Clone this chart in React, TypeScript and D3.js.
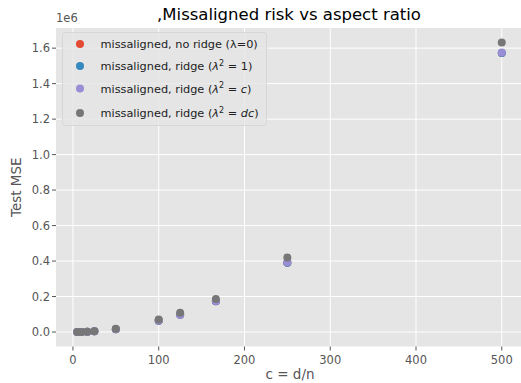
import React from "react";
import * as d3 from "d3";

// aspect ratio c = d/n
const cValues = [5, 10, 16.67, 25, 50, 100, 125, 166.67, 250, 500];

// test MSE, in units of 1e6
const noRidge = [0.0002, 0.0007, 0.0018, 0.0039, 0.016, 0.064, 0.097, 0.174, 0.391, 1.572];
const ridgeOne = [0.0002, 0.0007, 0.0018, 0.0039, 0.016, 0.064, 0.097, 0.174, 0.391, 1.573];
const ridgeC = [0.0002, 0.0007, 0.0018, 0.004, 0.016, 0.065, 0.098, 0.175, 0.393, 1.576];
const ridgeDC = [0.0002, 0.0008, 0.002, 0.0045, 0.018, 0.07, 0.108, 0.186, 0.42, 1.632];

const xTicks = [0, 100, 200, 300, 400, 500];
const yTicks = [0, 0.2, 0.4, 0.6, 0.8, 1.0, 1.2, 1.4, 1.6];

const series = [
  { name: "noRidge", values: noRidge, color: "#E24A33" },
  { name: "ridgeOne", values: ridgeOne, color: "#348ABD" },
  { name: "ridgeC", values: ridgeC, color: "#988ED5" },
  { name: "ridgeDC", values: ridgeDC, color: "#777777" },
];

const W = 521;
const H = 383;
const font = "'DejaVu Sans', sans-serif";

const App = () => {
  const x = d3.scaleLinear().domain([-19.75, 524.75]).range([56, 523]);
  const y = d3.scaleLinear().domain([-0.0816, 1.7136]).range([346.5, 28]);
  const [x0, x1] = x.range();
  const [yb, yt] = y.range();

  // legend label, math parts in italics
  const legendLabel = (i) => {
    if (i === 0) return <tspan>missaligned, no ridge (λ=0)</tspan>;
    const rhs =
      i === 1 ? <tspan>1</tspan> :
      i === 2 ? <tspan fontStyle="italic">c</tspan> :
      <tspan fontStyle="italic">dc</tspan>;
    return (
      <>
        <tspan>missaligned, ridge (</tspan>
        <tspan fontStyle="italic">λ</tspan>
        <tspan dy={-4.5} fontSize={8}>2</tspan>
        <tspan dy={4.5}> = </tspan>
        {rhs}
        <tspan>)</tspan>
      </>
    );
  };

  const legendY = [44, 66, 88.5, 113];

  return (
    <svg width={W} height={H} style={{ position: "absolute", left: 0, top: 0, background: "#fff" }} fontFamily={font}>
      <defs>
        <clipPath id="plot">
          <rect x={x0} y={yt} width={x1 - x0} height={yb - yt} />
        </clipPath>
      </defs>
      <rect x={x0} y={yt} width={x1 - x0} height={yb - yt} fill="#E5E5E5" />

      {/* grid */}
      {xTicks.map((t) => (
        <line key={"gx" + t} x1={x(t)} x2={x(t)} y1={yt} y2={yb} stroke="#fff" strokeWidth={1} />
      ))}
      {yTicks.map((t) => (
        <line key={"gy" + t} x1={x0} x2={x1} y1={y(t)} y2={y(t)} stroke="#fff" strokeWidth={1} />
      ))}

      {/* points */}
      <g clipPath="url(#plot)">
        {series.map((s) =>
          s.values.map((v, i) => (
            <circle key={s.name + i} cx={x(cValues[i])} cy={y(v)} r={4} fill={s.color} />
          ))
        )}
      </g>

      {/* x axis */}
      {xTicks.map((t) => (
        <g key={"tx" + t}>
          <line x1={x(t)} x2={x(t)} y1={yb} y2={yb + 4} stroke="#555" />
          <text x={x(t)} y={yb + 17.5} textAnchor="middle" fontSize={11.5} fill="#555">{t}</text>
        </g>
      ))}
      {/* y axis */}
      {yTicks.map((t) => (
        <g key={"ty" + t}>
          <line x1={x0 - 4} x2={x0} y1={y(t)} y2={y(t)} stroke="#555" />
          <text x={x0 - 6} y={y(t) + 4} textAnchor="end" fontSize={11.5} fill="#555">{t.toFixed(1)}</text>
        </g>
      ))}
      <text x={x0} y={22} fontSize={11.5} fill="#555">1e6</text>

      {/* labels */}
      <text x={289} y={20} textAnchor="middle" fontSize={16.5} fill="#000">,Missaligned risk vs aspect ratio</text>
      <text x={290} y={379} textAnchor="middle" fontSize={13.5} fill="#555">c = d/n</text>
      <text transform={`translate(21,${(yt + yb) / 2}) rotate(-90)`} textAnchor="middle" fontSize={13.5} fill="#555">Test MSE</text>

      {/* legend */}
      <rect x={62.5} y={32.5} width={204} height={93} rx={3} fill="#E5E5E5" fillOpacity={0.8} stroke="#D6D6D6" strokeWidth={1} />
      {series.map((s, i) => (
        <g key={"lg" + s.name}>
          <circle cx={80} cy={legendY[i]} r={4} fill={s.color} />
          <text x={100.5} y={legendY[i] + 4} fontSize={11.3} fill="#222">{legendLabel(i)}</text>
        </g>
      ))}
    </svg>
  );
};

export default App;
